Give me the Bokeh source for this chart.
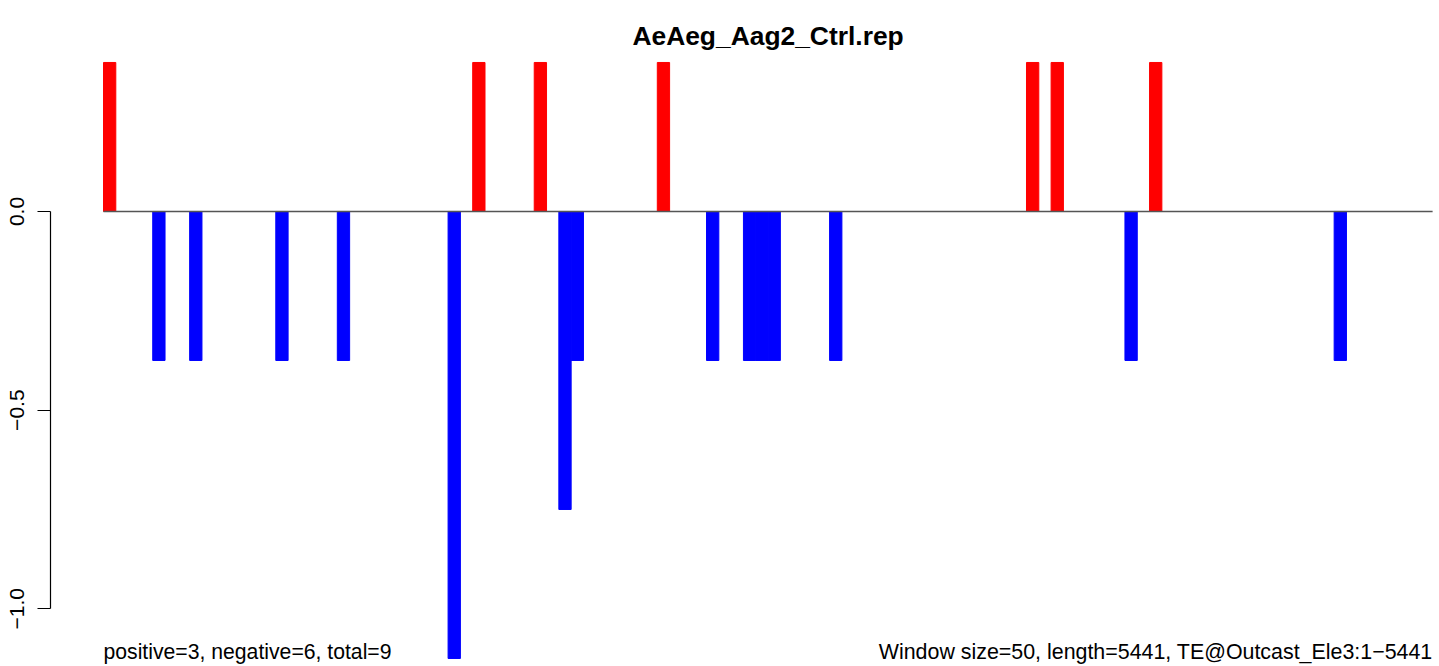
from bokeh.plotting import figure
from bokeh.models import Label, LinearAxis, FixedTicker, Range1d
from bokeh.embed import file_html
from bokeh.resources import INLINE

# ---- data (window index of 50-bp windows, and bar value) ----
pos_windows = [0, 30, 35, 45, 75, 77, 85]
pos_values = [0.375, 0.375, 0.375, 0.375, 0.375, 0.375, 0.375]
neg_windows = [4, 7, 14, 19, 28, 37, 38, 49, 52, 53, 54, 59, 83, 100]
neg_values = [-0.375, -0.375, -0.375, -0.375, -1.125, -0.75, -0.375,
              -0.375, -0.375, -0.375, -0.375, -0.375, -0.375, -0.375]
n_windows = 108
y_ticks = [-1.0, -0.5, 0.0]
y_tick_labels = {-1.0: "\u22121.0", -0.5: "\u22120.5", 0.0: "0.0"}
title_text = "AeAeg_Aag2_Ctrl.rep"
left_note = "positive=3, negative=6, total=9"
right_note = "Window size=50, length=5441, TE@Outcast_Ele3:1\u22125441"

FONT = "Liberation Sans"

p = figure(width=1439, height=666,
           x_range=Range1d(-4.307, 108.56), y_range=Range1d(-1.1452, 0.531),
           output_backend="svg", toolbar_location=None,
           x_axis_location=None, y_axis_location=None,
           min_border_left=50, min_border_right=0,
           min_border_top=0, min_border_bottom=0)
p.outline_line_color = None
p.xgrid.visible = False
p.ygrid.visible = False
p.background_fill_color = "white"
p.border_fill_color = "white"

p.vbar(x=[w + 0.5 for w in pos_windows], top=pos_values, bottom=0, width=1,
       fill_color="#ff0000", line_color="#ff0000", line_width=1)
p.vbar(x=[w + 0.5 for w in neg_windows], top=neg_values, bottom=0, width=1,
       fill_color="#0000ff", line_color="#0000ff", line_width=1)

p.segment(x0=[0], y0=[0], x1=[n_windows], y1=[0], line_color="#555555", line_width=1.5)

yaxis = LinearAxis(ticker=FixedTicker(ticks=y_ticks), bounds=(-1.0, 0.0),
                   major_label_overrides=y_tick_labels)
yaxis.major_tick_out = 13
yaxis.major_tick_in = 0
yaxis.minor_tick_out = 0
yaxis.minor_tick_in = 0
yaxis.axis_line_color = "black"
yaxis.axis_line_width = 1.2
yaxis.major_tick_line_color = "black"
yaxis.major_tick_line_width = 1.2
yaxis.major_label_orientation = "vertical"
yaxis.major_label_text_font = FONT
yaxis.major_label_text_font_size = "21px"
yaxis.major_label_text_color = "black"
yaxis.major_label_standoff = 13
p.add_layout(yaxis, "left")

p.add_layout(Label(x=54.0, y=0.4422, text=title_text, text_align="center",
                   text_baseline="alphabetic", text_font=FONT, text_font_size="26.4px",
                   text_font_style="bold", text_color="black"))
p.add_layout(Label(x=0, y=-1.108, text=left_note, text_align="left",
                   text_baseline="alphabetic", text_font=FONT, text_font_size="21.2px",
                   text_color="black"))
p.add_layout(Label(x=n_windows, y=-1.108, text=right_note, text_align="right",
                   text_baseline="alphabetic", text_font=FONT, text_font_size="21.4px",
                   text_color="black"))

open("out.html", "w").write(file_html(p, INLINE))
